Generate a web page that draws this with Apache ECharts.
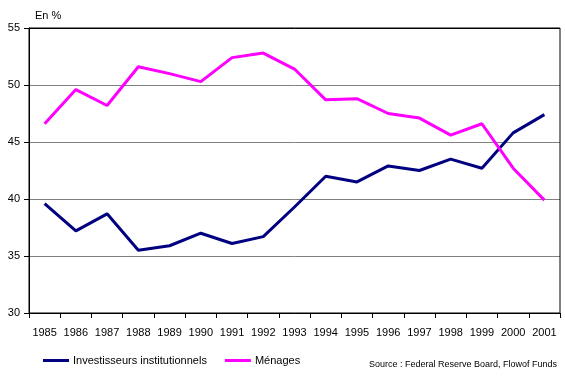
<!DOCTYPE html>
<html><head><meta charset="utf-8">
<script src="https://cdn.jsdelivr.net/npm/echarts@6/dist/echarts.min.js"></script>
<style>html,body{margin:0;padding:0;background:#fff}#c{width:565px;height:384px}</style>
</head><body><div id="c"></div>
<script>
const years = ['1985','1986','1987','1988','1989','1990','1991','1992','1993','1994','1995','1996','1997','1998','1999','2000','2001'];
const investisseurs = [39.6, 37.2, 38.7, 35.5, 35.9, 37.0, 36.1, 36.7, 39.3, 42.0, 41.5, 42.9, 42.5, 43.5, 42.7, 45.8, 47.4];
const menages = [46.6, 49.6, 48.2, 51.6, 51.0, 50.3, 52.4, 52.8, 51.4, 48.7, 48.8, 47.5, 47.1, 45.6, 46.6, 42.7, 39.9];
const yTicks = [30, 35, 40, 45, 50, 55];
const font = 'Liberation Sans, Arial, sans-serif';
const chart = echarts.init(document.getElementById('c'), null, {renderer:'canvas'});
chart.setOption({
  animation:false,
  backgroundColor:'#fff',
  grid:{left:29,right:5,top:28,bottom:71,show:true,borderColor:'#000',borderWidth:1,backgroundColor:'transparent',z:5},
  xAxis:{type:'category',data:years,boundaryGap:true,
    axisLine:{lineStyle:{color:'#000',width:1}},
    axisTick:{show:true,length:5,inside:false,lineStyle:{color:'#000'},alignWithLabel:false},
    axisLabel:{color:'#000',fontFamily:font,fontSize:11,margin:14,interval:0},
    splitLine:{show:false}},
  yAxis:{type:'value',min:yTicks[0],max:yTicks[yTicks.length-1],interval:5,
    axisLine:{show:true,lineStyle:{color:'#000'}},
    axisTick:{show:true,length:5,lineStyle:{color:'#000'}},
    axisLabel:{color:'#000',fontFamily:font,fontSize:11,margin:9},
    splitLine:{show:true,lineStyle:{color:['#000','#808080','#808080','#808080','#808080','#000'],width:1}}},
  legend:{left:43,top:355,padding:0,itemWidth:26,itemHeight:3,itemGap:18,icon:'rect',
    textStyle:{fontFamily:font,fontSize:11,color:'#000',padding:[0,0,0,-1]},
    data:['Investisseurs institutionnels','Ménages']},
  series:[
    {name:'Investisseurs institutionnels',type:'line',data:investisseurs,symbol:'none',
      lineStyle:{color:'#000080',width:3},itemStyle:{color:'#000080'},z:3},
    {name:'Ménages',type:'line',data:menages,symbol:'none',
      lineStyle:{color:'#ff00ff',width:3},itemStyle:{color:'#ff00ff'},z:4}
  ],
  graphic:[
    {type:'text',left:35,top:10,style:{text:'En %',fontFamily:font,fontSize:11,fill:'#000'}},
    {type:'text',right:8,top:360,style:{text:'Source : Federal Reserve Board, Flowof Funds',fontFamily:font,fontSize:9,fill:'#000'}}
  ]
});
</script></body></html>
